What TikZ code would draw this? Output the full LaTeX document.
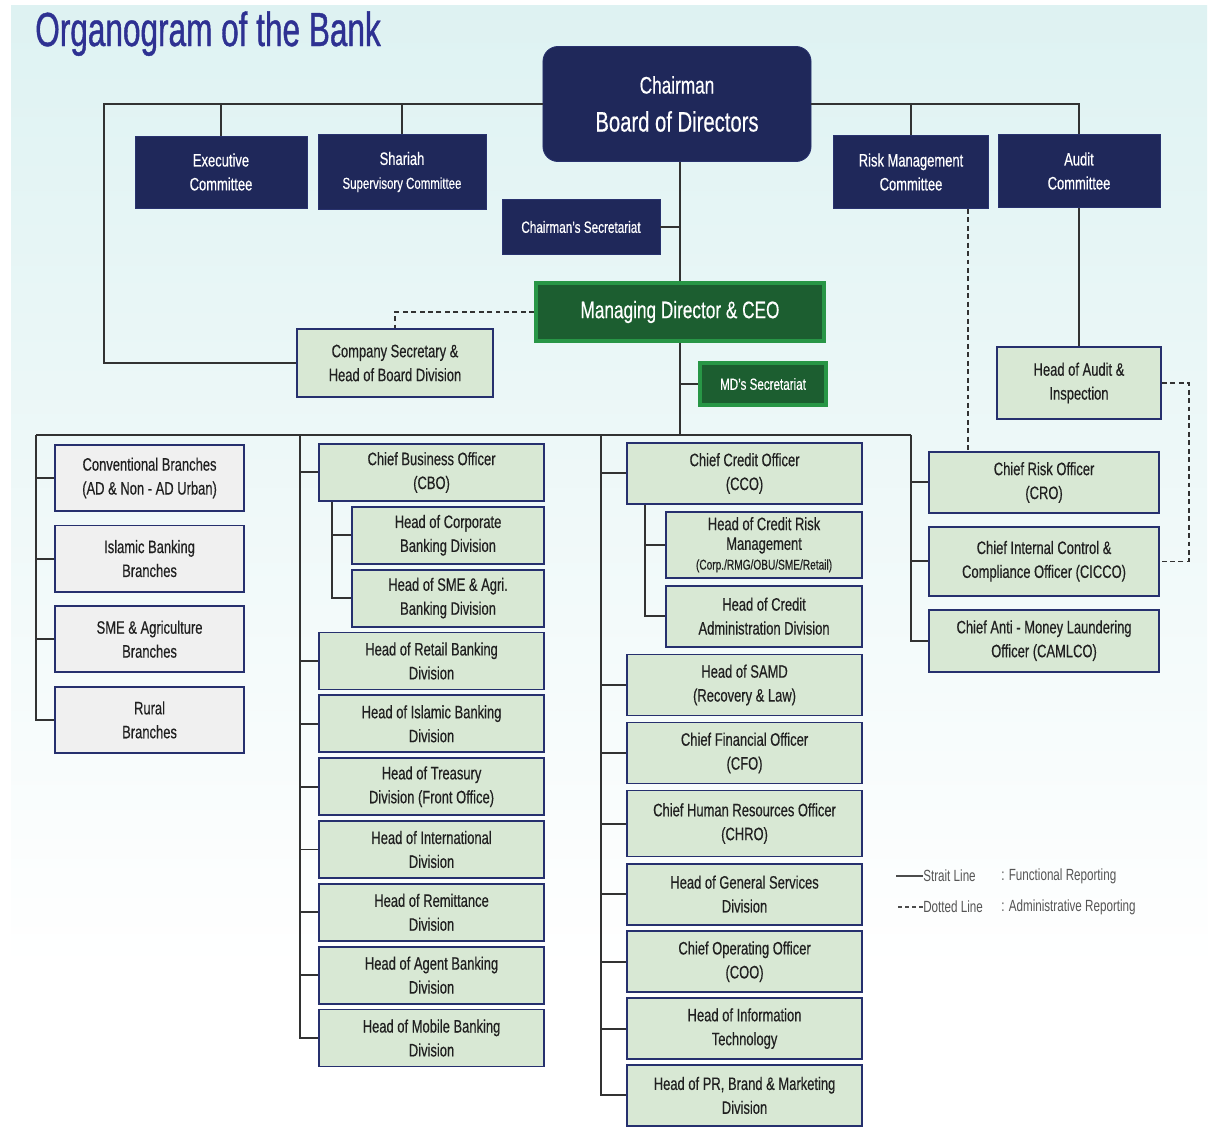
\documentclass[tikz,border=0pt]{standalone}
\usepackage{fontspec}
\setmainfont[FakeStretch=0.72, FakeBold=0.4]{Liberation Sans}
\newfontfamily\titlefont[FakeStretch=0.66, FakeBold=0.8]{Liberation Sans}
\newfontfamily\legendfont[FakeStretch=0.72]{Liberation Sans}
\usetikzlibrary{positioning}

\definecolor{navy}{RGB}{31,40,90}
\definecolor{navyedge}{RGB}{40,50,110}
\definecolor{mdgreen}{RGB}{28,94,48}
\definecolor{mdedge}{RGB}{40,150,70}
\definecolor{unitgreen}{RGB}{216,232,212}
\definecolor{branchgray}{RGB}{240,240,240}
\definecolor{boxedge}{RGB}{38,48,110}
\definecolor{linegray}{RGB}{50,50,50}
\definecolor{titleblue}{RGB}{46,49,146}
\definecolor{bgtop}{RGB}{222,242,242}
\definecolor{legendgray}{RGB}{85,85,85}
\definecolor{inkgray}{RGB}{32,32,32}

\newcommand{\boxfont}{\fontsize{12.8}{17}\selectfont}

\begin{document}
\begin{tikzpicture}[
  x=0.025cm, y=-0.025cm,
  font=\boxfont,
  committee/.style={rectangle, draw=navyedge, fill=navy, text=white, align=center, minimum height=1.8cm, line width=0.6pt},
  chairbox/.style={committee, rounded corners=0.375cm, minimum width=6.7cm, minimum height=2.875cm},
  mdbox/.style={rectangle, draw=mdedge, fill=mdgreen, text=white, align=center, line width=2.5pt},
  unit/.style={rectangle, draw=boxedge, fill=unitgreen, text=inkgray, align=center, line width=1.3pt, inner sep=1pt},
  cbobox/.style={unit, minimum width=5.625cm, minimum height=1.425cm},
  cbosub/.style={unit, minimum width=4.8cm, minimum height=1.425cm},
  ccobox/.style={unit, minimum width=5.875cm, minimum height=1.525cm},
  ccosub/.style={unit, minimum width=4.9cm, minimum height=1.525cm},
  branch/.style={unit, fill=branchgray, minimum width=4.725cm, minimum height=1.65cm},
  riskbox/.style={unit, minimum width=5.75cm, minimum height=1.55cm},
  legend/.style={anchor=west, text=legendgray, font=\legendfont\fontsize{11.5}{14}\selectfont, inner sep=0pt},
  link/.style={draw=linegray, line width=1.4pt},
  dashlink/.style={draw=linegray, line width=1pt, dash pattern=on 3.5pt off 2.5pt}
]
  % page and background
  \useasboundingbox (0,0) rectangle (1209,1126);
  \clip (0,0) rectangle (1209,1126);
  \fill[white] (0,0) rectangle (1209,1126);
  \shade[top color=bgtop, bottom color=white] (11,5) rectangle (1207,970);

  \node[anchor=base west, font=\titlefont\fontsize{34}{36}\selectfont, text=titleblue, inner sep=0pt] (title) at (35,46) {Organogram of the Bank};

  % board level
  \node[chairbox, font=\fontsize{20}{27}\selectfont] (chair) at (677,104) {{\fontsize{17}{27}\selectfont Chairman}\\Board of Directors};
  \node[committee, minimum width=4.3cm] (exec) at (221,172) {Executive\\Committee};
  \node[committee, minimum width=4.2cm, minimum height=1.875cm] (shariah) at (402,172) {Shariah\\{\fontsize{11.3}{17}\selectfont Supervisory Committee}};
  \node[committee, minimum width=3.875cm, minimum height=1.825cm] (rmc) at (911,172) {Risk Management\\Committee};
  \node[committee, minimum width=4.05cm, minimum height=1.825cm] (audit) at (1079,171) {Audit\\Committee};
  \node[committee, minimum width=3.95cm, minimum height=1.375cm, font=\fontsize{11.6}{14}\selectfont] (chsec) at (581,227) {Chairman's Secretariat};

  \node[mdbox, minimum width=7.2cm, minimum height=1.45cm, font=\fontsize{17}{20}\selectfont] (md) at (680,312) {Managing Director \& CEO};
  \node[mdbox, minimum width=3.15cm, minimum height=1.05cm, font=\fontsize{11.5}{14}\selectfont] (mdsec) at (763,384) {MD's Secretariat};
  \node[unit, minimum width=4.9cm, minimum height=1.7cm] (cosec) at (395,363) {Company Secretary \&\\Head of Board Division};
  \node[unit, minimum width=4.1cm, minimum height=1.8cm] (hoa) at (1079,383) {Head of Audit \&\\Inspection};

  \coordinate (c1) at (36,435);
  \coordinate (c2) at (300,435);
  \coordinate (c3) at (601,435);
  \coordinate (c4) at (911,435);
  \coordinate (lx) at (104,0);
  \coordinate (sp) at (680,0);
  \coordinate (s2) at (332,0);
  \coordinate (s3) at (645,0);
  \coordinate (rx) at (968,0);
  \coordinate (ax) at (1189,0);

  % branches
  \node[branch, anchor=north east] (conv) at (245,444) {Conventional Branches\\(AD \& Non - AD Urban)};
  \node[branch, below=0.32cm of conv] (islb) {Islamic Banking\\Branches};
  \node[branch, below=0.32cm of islb] (smeb) {SME \& Agriculture\\Branches};
  \node[branch, below=0.32cm of smeb] (rural) {Rural\\Branches};

  % business column
  \node[cbobox, anchor=north east] (cbo) at (545,443) {Chief Business Officer\\(CBO)};
  \node[cbosub, below=0.1cm of cbo.south east, anchor=north east] (corp) {Head of Corporate\\Banking Division};
  \node[cbosub, below=0.1cm of corp.south east, anchor=north east] (smeag) {Head of SME \& Agri.\\Banking Division};
  \node[cbobox, below=0.1cm of smeag.south east, anchor=north east] (retail) {Head of Retail Banking\\Division};
  \node[cbobox, below=0.1cm of retail] (islam) {Head of Islamic Banking\\Division};
  \node[cbobox, below=0.1cm of islam] (treas) {Head of Treasury\\Division (Front Office)};
  \node[cbobox, below=0.1cm of treas] (intl) {Head of International\\Division};
  \node[cbobox, below=0.1cm of intl] (remit) {Head of Remittance\\Division};
  \node[cbobox, below=0.1cm of remit] (agent) {Head of Agent Banking\\Division};
  \node[cbobox, below=0.1cm of agent] (mobile) {Head of Mobile Banking\\Division};

  % credit and support column
  \node[ccobox, anchor=north east] (cco) at (863,442) {Chief Credit Officer\\(CCO)};
  \node[ccosub, minimum height=1.65cm, below=0.15cm of cco.south east, anchor=north east] (crm) {Head of Credit Risk\\[-3pt]Management\\[-3pt]{\fontsize{10}{12}\selectfont (Corp./RMG/OBU/SME/Retail)}};
  \node[ccosub, below=0.15cm of crm.south east, anchor=north east] (cad) {Head of Credit\\Administration Division};
  \node[ccobox, below=0.15cm of cad.south east, anchor=north east] (samd) {Head of SAMD\\(Recovery \& Law)};
  \node[ccobox, below=0.13cm of samd] (cfo) {Chief Financial Officer\\(CFO)};
  \node[ccobox, minimum height=1.65cm, below=0.13cm of cfo] (chro) {Chief Human Resources Officer\\(CHRO)};
  \node[ccobox, below=0.13cm of chro] (gsd) {Head of General Services\\Division};
  \node[ccobox, below=0.12cm of gsd] (coo) {Chief Operating Officer\\(COO)};
  \node[ccobox, below=0.1cm of coo] (it) {Head of Information\\Technology};
  \node[ccobox, below=0.1cm of it] (pr) {Head of PR, Brand \& Marketing\\Division};

  % risk column
  \node[riskbox, minimum height=1.525cm, anchor=north east] (cro) at (1160,451) {Chief Risk Officer\\(CRO)};
  \node[riskbox, minimum height=1.725cm, below=0.3cm of cro] (cicco) {Chief Internal Control \&\\Compliance Officer (CICCO)};
  \node[riskbox, below=0.3cm of cicco] (camlco) {Chief Anti - Money Laundering\\Officer (CAMLCO)};

  % legend
  \node[legend] (strait) at (923,876) {Strait Line};
  \node[legend] (functional) at (1001,876) {: Functional Reporting};
  \node[legend] (dotted) at (923,907) {Dotted Line};
  \node[legend] (admin) at (1001,907) {: Administrative Reporting};
  \draw[draw=black!70, line width=0.8pt] (strait.west) -- ++(-27,0);
  \draw[draw=black!70, line width=0.8pt, dash pattern=on 3pt off 2pt] (dotted.west) -- ++(-27,0);

  % board connectors
  \draw[link] (chair.west) -| (lx |- cosec.west) -- (cosec.west);
  \draw[link] (exec.north) -- (exec.north |- chair.west);
  \draw[link] (shariah.north) -- (shariah.north |- chair.west);
  \draw[link] (chair.east) -| (audit.north);
  \draw[link] (rmc.north) -- (rmc.north |- chair.east);
  \draw[link] (chair.south -| sp) -- (md.north -| sp);
  \draw[link] (chsec.east) -- (chsec.east -| sp);
  \draw[dashlink] (md.west) -| (cosec.north);
  \draw[link] (md.south -| sp) -- (c1 -| sp);
  \draw[link] (mdsec.west) -- (mdsec.west -| sp);
  \draw[link] (audit.south) -- (hoa.north);
  \draw[dashlink] (rmc.south -| rx) -- (cro.north -| rx);
  \draw[dashlink] (hoa.east) -| (ax |- cicco.east) -- (cicco.east);

  % management connectors
  \draw[link] (c1) -- (c4);
  \draw[link] (c1) |- (rural.west);
  \foreach \n in {conv,islb,smeb}
    \draw[link] (\n.west) -- (\n.west -| c1);
  \draw[link] (c2) |- (mobile.west);
  \foreach \n in {cbo,retail,islam,treas,intl,remit,agent}
    \draw[link] (\n.west) -- (\n.west -| c2);
  \draw[link] (cbo.south -| s2) |- (smeag.west);
  \draw[link] (corp.west) -- (corp.west -| s2);
  \draw[link] (c3) |- (pr.west);
  \foreach \n in {cco,samd,cfo,chro,gsd,coo,it}
    \draw[link] (\n.west) -- (\n.west -| c3);
  \draw[link] (cco.south -| s3) |- (cad.west);
  \draw[link] (crm.west) -- (crm.west -| s3);
  \draw[link] (c4) |- (camlco.west);
  \foreach \n in {cro,cicco}
    \draw[link] (\n.west) -- (\n.west -| c4);
\end{tikzpicture}
\end{document}
